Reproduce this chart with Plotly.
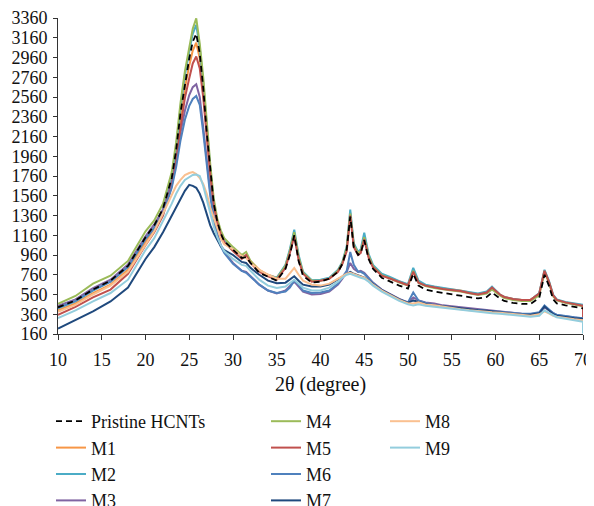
import plotly.graph_objects as go

two_theta = [10, 12, 14, 16, 18, 20, 21, 22, 23, 23.5, 24, 24.5, 25, 25.4, 25.8, 26.2, 26.6, 27, 27.4, 27.8,
             28.2, 28.6, 29, 30, 31, 31.5, 32, 33, 34, 35, 36, 36.5, 37, 37.5, 38, 39, 40, 41, 42, 42.5,
             43, 43.4, 43.8, 44.3, 44.6, 45, 45.5, 46, 47, 48, 49, 50, 50.6, 51.2, 52, 53, 54, 55, 56, 57,
             58, 59, 59.6, 60.5, 61, 62, 63, 64, 65, 65.6, 66.1, 66.6, 67, 68, 69, 70, 70]

pristine = [430, 500, 610, 700, 850, 1140, 1260, 1430, 1740, 2020, 2400, 2700, 2950, 3120, 3200, 3000, 2650, 2200, 1800, 1480,
            1300, 1180, 1100, 1010, 930, 940, 880, 780, 740, 700, 820, 960, 1160, 900, 750, 680, 690, 720, 790, 870,
            1020, 1350, 1040, 960, 980, 1110, 920, 820, 730, 690, 650, 620, 770, 650, 610, 590, 575, 560, 550, 535,
            520, 535, 580, 520, 495, 475, 465, 465, 525, 760, 650, 510, 470, 450, 435, 420, 410]
m1 = [400, 470, 575, 660, 810, 1090, 1210, 1380, 1700, 1980, 2350, 2650, 2880, 3030, 3110, 2950, 2600, 2150, 1780, 1460,
      1290, 1170, 1100, 1020, 950, 955, 900, 810, 760, 730, 850, 1000, 1180, 930, 780, 700, 705, 725, 800, 880,
      1030, 1390, 1060, 975, 1000, 1150, 950, 845, 760, 725, 690, 660, 810, 690, 655, 635, 620, 610, 600, 580,
      565, 585, 630, 560, 535, 515, 505, 505, 570, 800, 690, 550, 505, 480, 465, 450, 440]
m2 = [420, 490, 600, 690, 840, 1130, 1250, 1420, 1750, 2050, 2450, 2780, 3020, 3200, 3290, 3060, 2700, 2250, 1840, 1500,
      1310, 1190, 1110, 1020, 940, 950, 890, 800, 755, 730, 860, 1020, 1217, 960, 790, 705, 710, 730, 810, 890,
      1050, 1420, 1080, 990, 1020, 1186, 970, 860, 770, 735, 695, 665, 830, 700, 660, 640, 625, 615, 600, 585,
      570, 590, 640, 560, 535, 515, 505, 505, 575, 810, 700, 555, 510, 485, 470, 455, 445]
m3 = [445, 510, 625, 710, 865, 1150, 1270, 1420, 1700, 1920, 2200, 2420, 2580, 2660, 2690, 2560, 2250, 1900, 1600, 1350,
      1180, 1060, 990, 880, 800, 790, 750, 660, 600, 570, 600, 640, 690, 640, 590, 560, 565, 590, 660, 720,
      790, 880, 820, 790, 800, 780, 730, 680, 610, 560, 515, 480, 530, 500, 480, 470, 450, 440, 430, 420,
      410, 400, 400, 390, 385, 375, 365, 360, 375, 430, 400, 365, 350, 340, 330, 320, 315]
m4 = [465, 545, 670, 750, 900, 1200, 1310, 1480, 1800, 2100, 2500, 2820, 3060, 3250, 3357, 3100, 2760, 2300, 1880, 1530,
      1330, 1210, 1130, 1040, 960, 990, 900, 800, 750, 720, 850, 1000, 1190, 940, 780, 700, 700, 720, 800, 880,
      1030, 1380, 1060, 980, 1000, 1140, 950, 845, 755, 720, 680, 650, 800, 680, 645, 625, 610, 600, 590, 570,
      555, 570, 610, 550, 525, 505, 495, 495, 550, 790, 680, 540, 500, 475, 460, 445, 440]
m5 = [355, 435, 530, 610, 770, 1060, 1190, 1360, 1660, 1900, 2250, 2550, 2750, 2900, 2970, 2850, 2550, 2150, 1780, 1470,
      1290, 1170, 1090, 1000, 920, 960, 880, 790, 745, 710, 830, 980, 1150, 910, 770, 690, 700, 720, 790, 870,
      1000, 1360, 1040, 960, 980, 1120, 930, 835, 750, 720, 685, 655, 790, 680, 650, 630, 615, 605, 595, 575,
      560, 580, 630, 560, 535, 515, 505, 505, 570, 800, 690, 550, 505, 480, 465, 445, 330]
m6 = [425, 495, 605, 690, 840, 1120, 1230, 1380, 1640, 1850, 2120, 2330, 2470, 2540, 2570, 2480, 2200, 1850, 1560, 1320,
      1160, 1050, 980, 870, 800, 780, 740, 660, 600, 575, 590, 630, 700, 660, 600, 575, 580, 600, 670, 730,
      800, 990, 860, 790, 790, 770, 720, 675, 605, 560, 510, 480, 580, 500, 475, 455, 440, 425, 415, 405,
      400, 395, 395, 385, 380, 370, 365, 365, 380, 450, 410, 370, 355, 340, 330, 320, 315]
m7 = [215, 300, 390, 490, 630, 920, 1040, 1190, 1360, 1450, 1530, 1610, 1670, 1660, 1640, 1580, 1490, 1380, 1260, 1180,
      1110, 1050, 1010, 960, 890, 880, 830, 760, 700, 675, 680, 710, 745, 700, 660, 640, 640, 660, 710, 740,
      770, 790, 770, 750, 740, 730, 700, 665, 605, 560, 510, 475, 500, 485, 465, 450, 440, 425, 415, 405,
      400, 395, 390, 380, 375, 365, 355, 355, 370, 440, 400, 360, 345, 330, 320, 315, 310]
m8 = [385, 455, 560, 650, 790, 1060, 1200, 1380, 1560, 1660, 1720, 1770, 1790, 1800, 1780, 1740, 1680, 1580, 1440, 1330,
      1220, 1130, 1070, 1020, 950, 930, 880, 810, 760, 720, 720, 770, 830, 760, 700, 660, 650, 670, 720, 750,
      770, 780, 770, 750, 740, 730, 700, 660, 600, 550, 505, 470, 470, 480, 460, 450, 435, 420, 410, 400,
      390, 385, 380, 375, 370, 360, 350, 345, 360, 390, 370, 345, 335, 320, 310, 300, 295]
m9 = [320, 400, 490, 575, 710, 1010, 1130, 1300, 1480, 1580, 1660, 1720, 1750, 1770, 1775, 1760, 1660, 1520, 1380, 1250,
      1140, 1060, 1000, 920, 860, 850, 800, 710, 650, 625, 640, 680, 710, 670, 630, 600, 600, 630, 690, 730,
      760, 770, 760, 740, 730, 720, 690, 650, 590, 540, 495, 460, 450, 460, 445, 435, 425, 410, 400, 390,
      380, 375, 370, 365, 360, 350, 340, 335, 345, 400, 375, 345, 330, 315, 300, 285, 165]

series_names = ["Pristine HCNTs", "M1", "M2", "M3", "M4", "M5", "M6", "M7", "M8", "M9"]
series_values = [pristine, m1, m2, m3, m4, m5, m6, m7, m8, m9]
colors = ["#000000", "#F79646", "#4BACC6", "#8064A2", "#9BBB59", "#C0504D", "#4F81BD", "#1F497D", "#FAC090", "#93CDDD"]
legend_ids = ["legend", "legend", "legend", "legend", "legend2", "legend2", "legend2", "legend2", "legend3", "legend3"]

y_ticks = list(range(160, 3361, 200))
x_ticks = list(range(10, 71, 5))

FONT = "Liberation Serif"

fig = go.Figure()
draw_order = [1, 2, 3, 4, 5, 6, 7, 8, 9, 0]
for i in draw_order:
    fig.add_trace(go.Scatter(
        x=two_theta, y=series_values[i], mode="lines", name=series_names[i],
        line=dict(color=colors[i], width=2 if i else 1.8, dash="6px,4px" if i == 0 else "solid"),
        legend=legend_ids[i], legendrank=i,
    ))

# The page body has an 8px default margin, so figure coordinates are page coordinates minus 8.
# Plot area in figure coordinates: x 50..575, y 10..326 (page 58..583, 18..334)
PL, PR, PT, PB = 50, 575, 10, 326
def px_x(p):
    return (p - PL) / (PR - PL)
def px_y(p):
    return (PB - p) / (PB - PT)

leg_common = dict(xref="paper", yref="paper", xanchor="left", yanchor="top",
                  bgcolor="rgba(0,0,0,0)", font=dict(family=FONT, size=18, color="#111"),
                  itemwidth=30, traceorder="normal")

fig.update_layout(
    width=594, height=506,
    margin=dict(l=PL, r=594 - PR, t=PT, b=506 - PB, autoexpand=False),
    paper_bgcolor="white", plot_bgcolor="white",
    font=dict(family=FONT, size=18, color="#111"),
    xaxis=dict(range=[10, 70], tickvals=x_ticks, ticks="outside", ticklen=5, tickcolor="#333",
               showline=True, linecolor="#333", linewidth=1, showgrid=False, zeroline=False,
               ticklabeloverflow="allow", ticklabelstandoff=4,
               tickfont=dict(family=FONT, size=18, color="#111"),
               title=dict(text="2θ (degree)", font=dict(family=FONT, size=20, color="#111"), standoff=8)),
    yaxis=dict(range=[160, 3360], tickvals=y_ticks, ticks="outside", ticklen=4, tickcolor="#333",
               showline=True, linecolor="#333", linewidth=1, showgrid=False, zeroline=False,
               ticklabelstandoff=2,
               tickfont=dict(family=FONT, size=18, color="#111")),
    legend=dict(x=px_x(43), y=px_y(395), **leg_common),
    legend2=dict(x=px_x(258), y=px_y(395), **leg_common),
    legend3=dict(x=px_x(377), y=px_y(395), **leg_common),
)

fig.write_html("out.html")
